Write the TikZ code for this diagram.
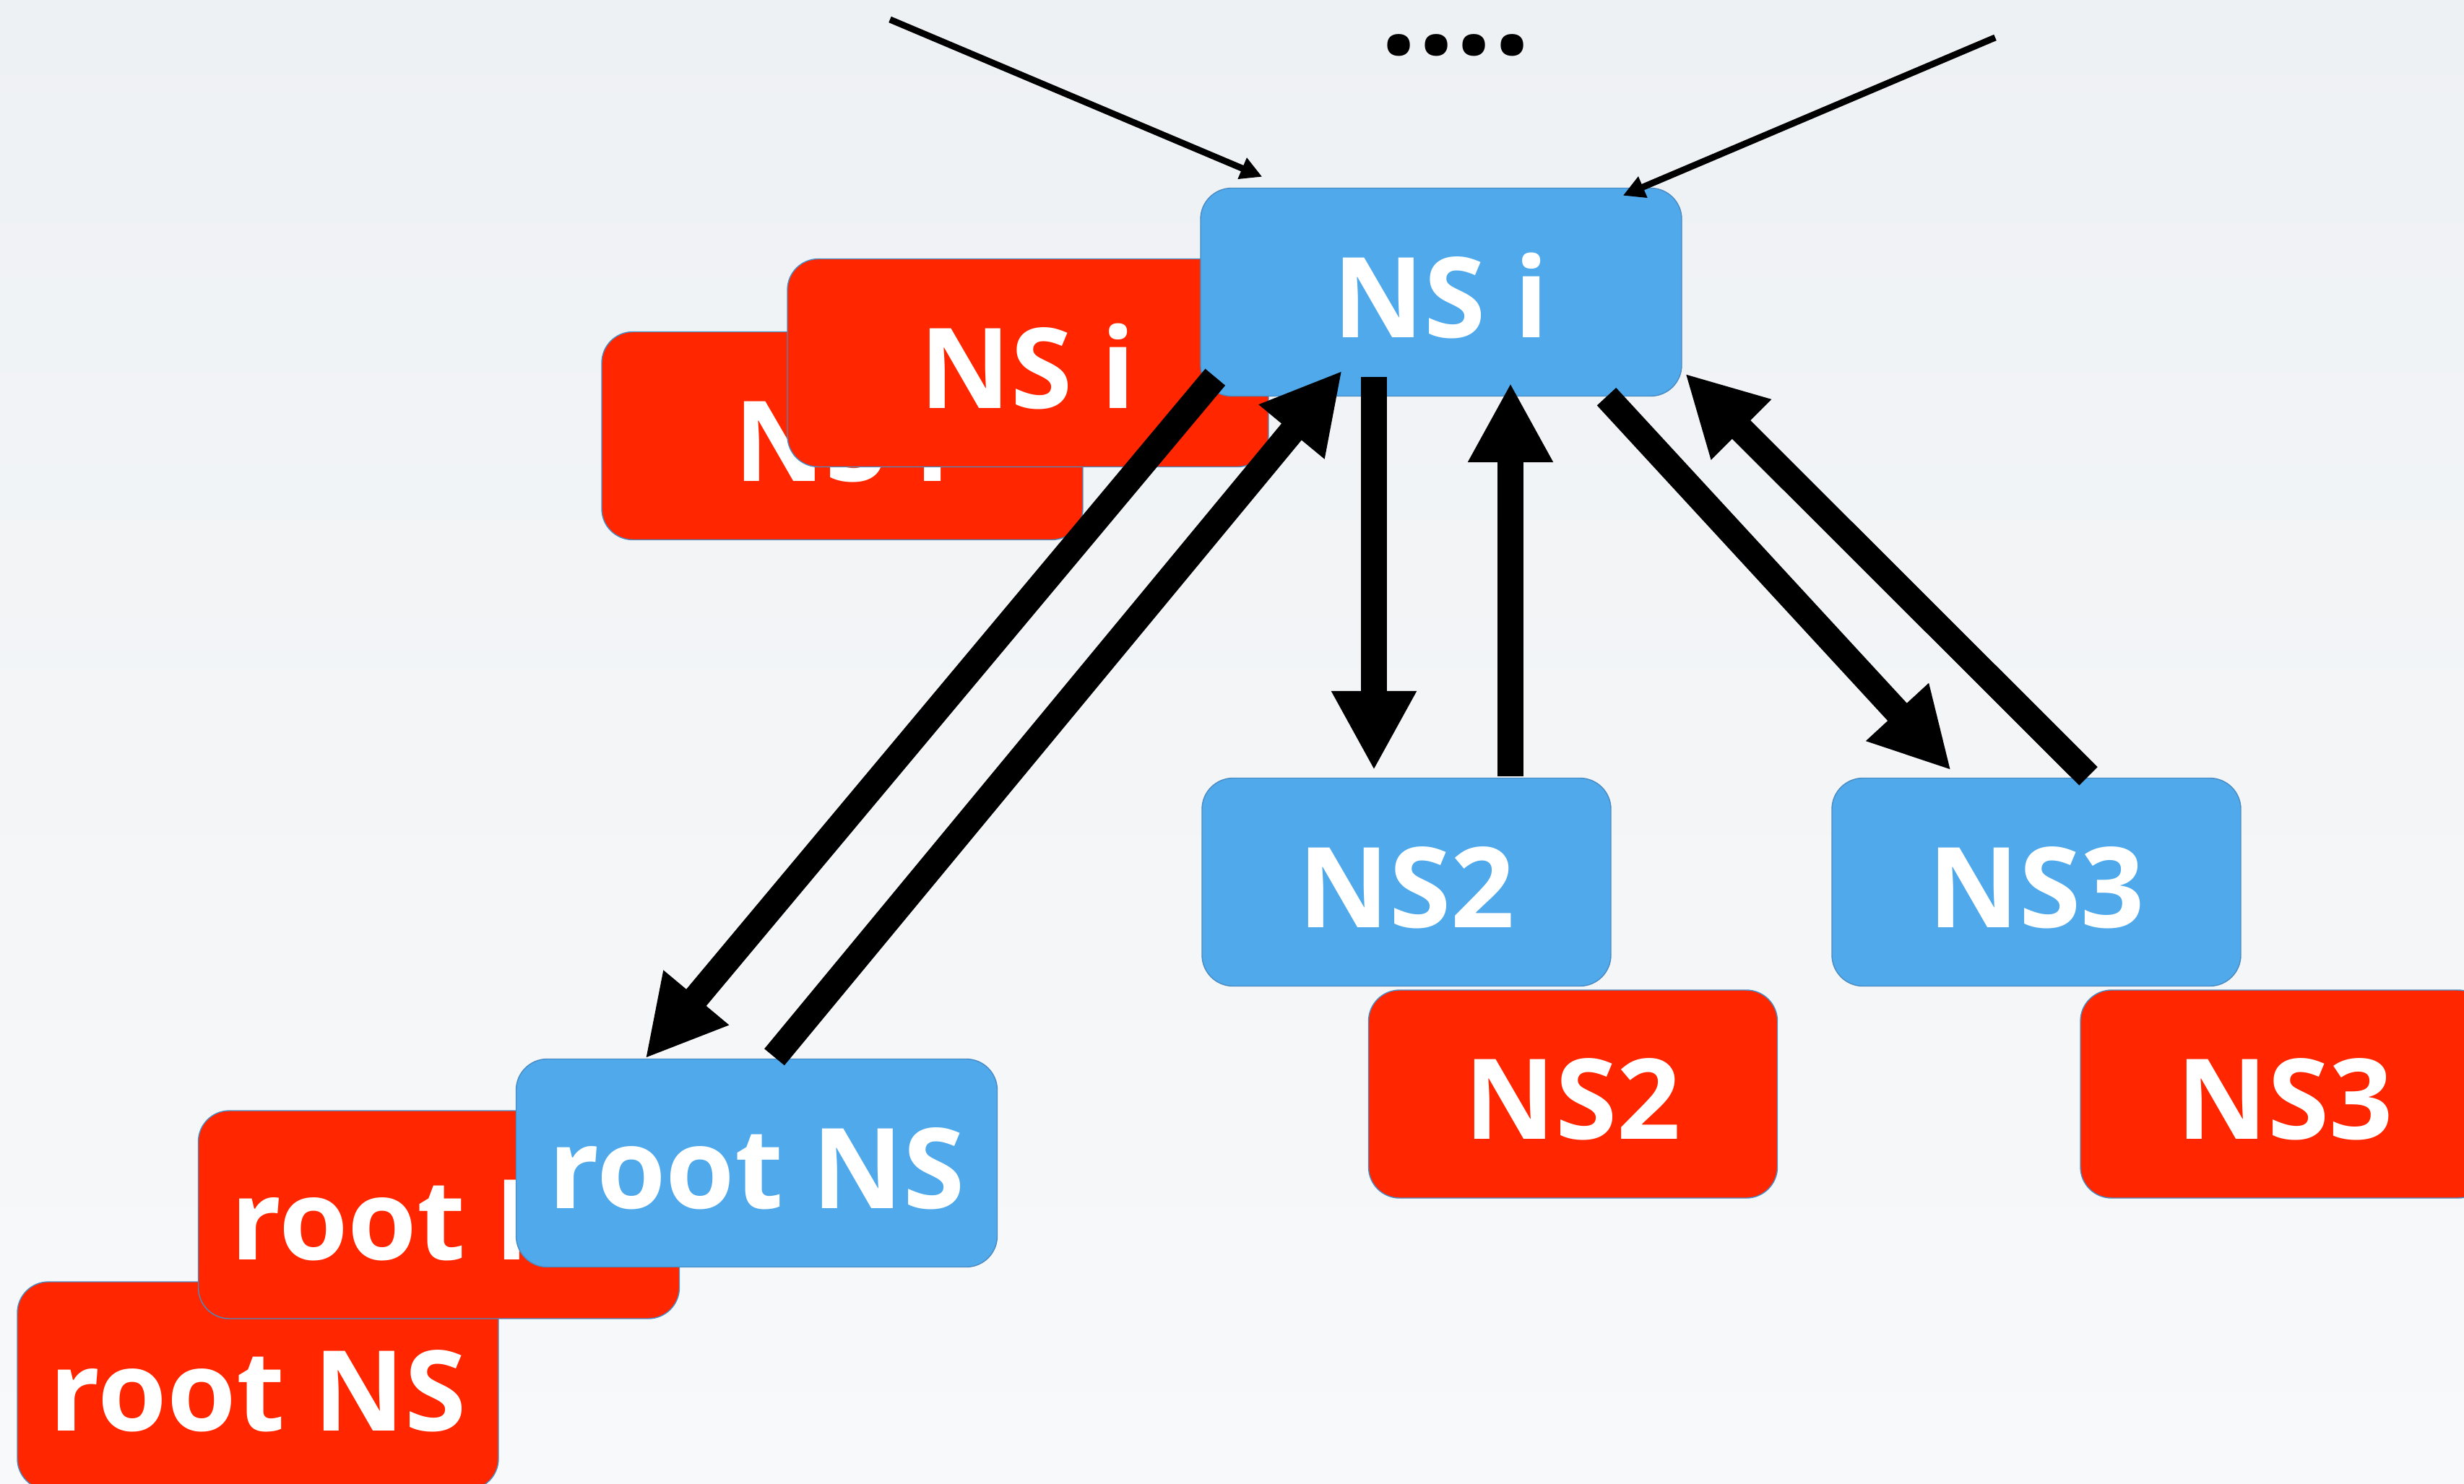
\documentclass[tikz,border=0pt]{standalone}
\usepackage{fontspec}
\setmainfont{Open Sans}
\usetikzlibrary{arrows.meta}

\definecolor{nsblue}{HTML}{4FA9EB}
\definecolor{nsred}{HTML}{FF2600}
\definecolor{nsedge}{HTML}{4A8CC4}
\definecolor{bgtop}{HTML}{EEF1F4}
\definecolor{bgbot}{HTML}{F8F9FA}

\tikzset{
  box/.style={rounded corners=4.3mm, draw=nsedge, line width=0.4pt, text=white,
    font=\fontsize{44}{48}\selectfont\bfseries, inner sep=0pt,
    text height=1.25cm, text depth=0pt,
    minimum width=6.66cm, minimum height=2.88cm},
  bluebox/.style={box, fill=nsblue},
  redbox/.style={box, fill=nsred},
  narrow/.style={minimum width=5.66cm},
  fat/.style={line width=3.6mm, -{Triangle[length=11mm,width=11mm]}},
  slim/.style={line width=0.9mm, -{Triangle[length=3mm,width=3mm]}}
}

\begin{document}
\begin{tikzpicture}
    \fill[top color=bgtop, bottom color=bgbot] (0,0) rectangle (34.11,-20.55);
    \useasboundingbox (0,0) rectangle (34.11,-20.55);
    \clip (0,0) rectangle (34.11,-20.55);

    % copies behind
    \node[redbox] (nsiback) at (11.66,-6.035) {NS i};
    \node[redbox] (nsifront) at (14.23,-5.025) {NS i};
    \node[redbox] (rootback) at (3.57,-19.19) {root NS};
    \node[redbox] (rootmid) at (6.075,-16.82) {root NS};
    \node[redbox, narrow] (ns2red) at (21.775,-15.15) {NS2};
    \node[redbox, narrow] (ns3red) at (31.63,-15.15) {NS3};

    \node[bluebox] (nsi) at (19.95,-4.045) {NS i};
    \node[bluebox] (rootns) at (10.475,-16.105) {root NS};
    \node[bluebox, narrow] (ns2) at (19.47,-12.215) {NS2};
    \node[bluebox, narrow] (ns3) at (28.19,-12.215) {NS3};

    \node[font=\fontsize{52}{56}\selectfont\bfseries] (dots) at (20.15,-0.63) {....};

    \coordinate (inleft) at (12.32,-0.27);
    \coordinate (inright) at (27.62,-0.52);
    \draw[slim] (inleft) -- ([shift={(0.86,0.15)}]nsi.north west);
    \draw[slim] (inright) -- ([shift={(-0.82,-0.11)}]nsi.north east);

    \draw[fat] ([shift={(0.21,0.27)}]nsi.south west) -- ([shift={(1.795,0)}]rootns.north west);
    \draw[fat] ([shift={(0.245,0.02)}]rootns.north) -- ([shift={(-1.37,0.36)}]nsi.south);
    \draw[fat] ([shift={(-0.93,0.27)}]nsi.south) -- ([shift={(-0.45,0.10)}]ns2.north);
    \draw[fat] ([shift={(1.44,0.02)}]ns2.north) -- ([shift={(0.96,0.19)}]nsi.south);
    \draw[fat] ([shift={(2.29,0)}]nsi.south) -- ([shift={(-1.18,0.10)}]ns3.north);
    \draw[fat] ([shift={(0.72,0.02)}]ns3.north) -- ([shift={(0.04,0.32)}]nsi.south east);
\end{tikzpicture}
\end{document}
